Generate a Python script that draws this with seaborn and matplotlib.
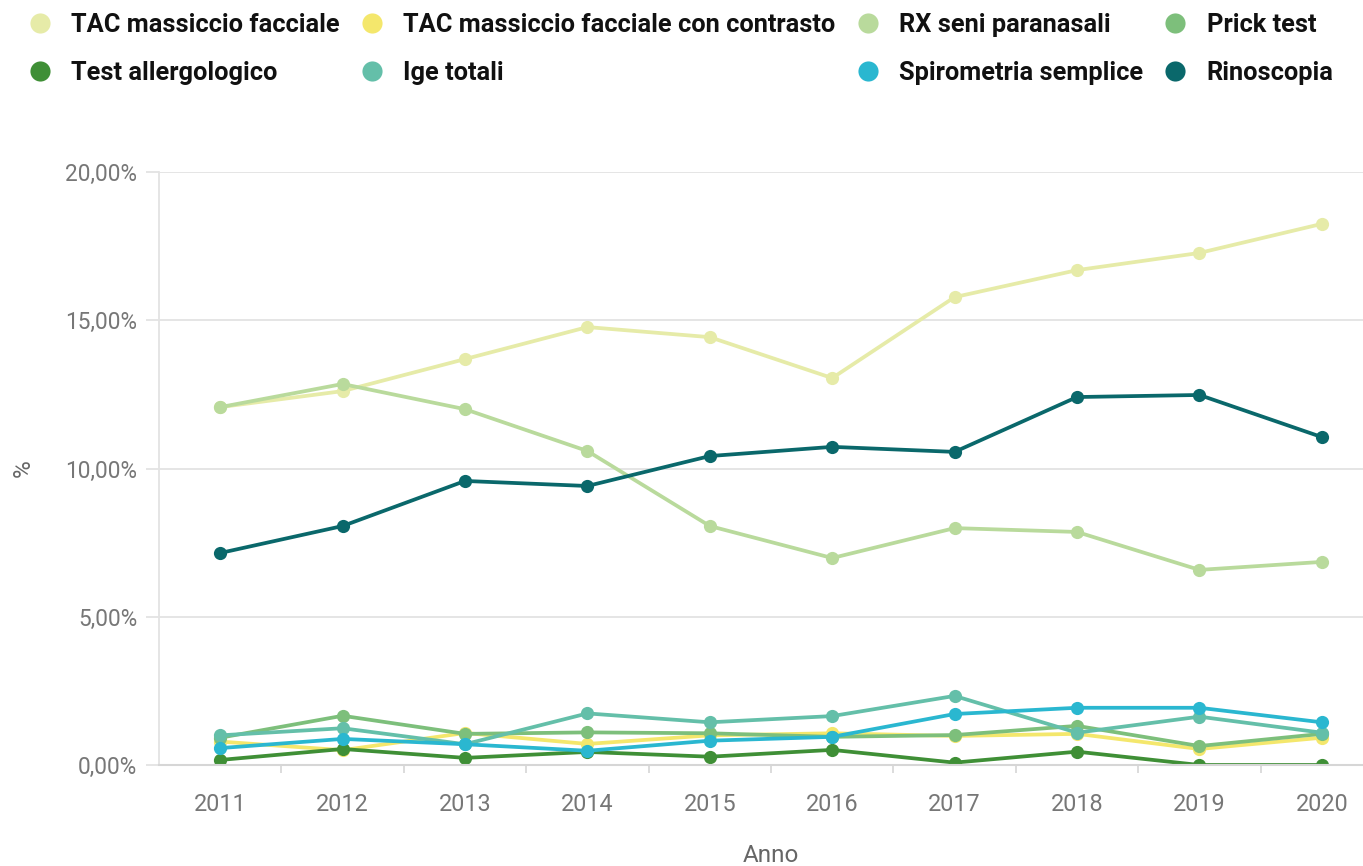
import matplotlib
matplotlib.use("Agg")
import matplotlib.pyplot as plt
from matplotlib.ticker import FuncFormatter, FixedLocator
from matplotlib.lines import Line2D
import seaborn as sns
import pandas as pd

years = [2011, 2012, 2013, 2014, 2015, 2016, 2017, 2018, 2019, 2020]
series_names = [
    "TAC massiccio facciale",
    "TAC massiccio facciale con contrasto",
    "RX seni paranasali",
    "Prick test",
    "Test allergologico",
    "Ige totali",
    "Spirometria semplice",
    "Rinoscopia",
]
tac = [12.07, 12.61, 13.69, 14.77, 14.43, 13.05, 15.78, 16.69, 17.27, 18.25]
tac_contrasto = [0.79, 0.50, 1.08, 0.71, 1.00, 1.07, 0.98, 1.05, 0.54, 0.92]
rx_seni = [12.07, 12.85, 12.00, 10.59, 8.06, 6.98, 7.99, 7.86, 6.58, 6.85]
prick = [0.92, 1.66, 1.05, 1.10, 1.07, 0.95, 1.01, 1.32, 0.64, 1.05]
test_allerg = [0.17, 0.54, 0.24, 0.44, 0.28, 0.51, 0.08, 0.45, 0.00, 0.00]
ige = [1.00, 1.24, 0.70, 1.74, 1.44, 1.65, 2.33, 1.09, 1.63, 1.09]
spiro = [0.57, 0.88, 0.70, 0.48, 0.82, 0.95, 1.72, 1.93, 1.93, 1.44]
rino = [7.15, 8.06, 9.58, 9.41, 10.42, 10.73, 10.56, 12.41, 12.48, 11.06]
colors = ["#e6eba8", "#f4e76c", "#b9da9c", "#7dbf7b", "#3f8f36", "#64bfa9", "#2ab7d0", "#0a686b"]
y_ticks = [0, 5, 10, 15, 20]

values = [tac, tac_contrasto, rx_seni, prick, test_allerg, ige, spiro, rino]
rows = []
for name, vals in zip(series_names, values):
    for y, v in zip(years, vals):
        rows.append({"Anno": y, "%": v, "Serie": name})
df = pd.DataFrame(rows)
palette = dict(zip(series_names, colors))

sns.set_theme(style="white")
plt.rcParams["font.family"] = ["Roboto", "DejaVu Sans"]

W, H = 1363, 866
fig = plt.figure(figsize=(W / 100, H / 100), dpi=100)
ax_l, ax_r, ax_t, ax_b = 159, 1383, 172, 765
ax = fig.add_axes([ax_l / W, 1 - ax_b / H, (ax_r - ax_l) / W, (ax_b - ax_t) / H])

sns.lineplot(data=df, x="Anno", y="%", hue="Serie", hue_order=series_names,
             palette=palette, marker="o", markersize=9.5, markeredgewidth=0,
             linewidth=2.7, ax=ax, legend=False)

ax.set_xlim(2010.5, 2020.5)
ax.set_ylim(0, 20)
ax.set_yticks(y_ticks)
ax.yaxis.set_major_formatter(FuncFormatter(lambda v, p: f"{v:.2f}%".replace(".", ",")))
ax.set_xticks(years)
ax.xaxis.set_minor_locator(FixedLocator([y + 0.5 for y in years[:-1]]))

grid_c = "#e3e3e3"
ax.grid(axis="y", color=grid_c, linewidth=1.3)
ax.grid(axis="x", visible=False)
for s in ["top", "right"]:
    ax.spines[s].set_visible(False)
ax.spines["left"].set_color(grid_c)
ax.spines["left"].set_linewidth(1.3)
ax.spines["bottom"].set_color("#d6d6d6")
ax.spines["bottom"].set_linewidth(1.5)
ax.set_axisbelow(True)

ax.tick_params(axis="y", which="major", length=9.5, width=1.3, color=grid_c, pad=6,
               labelsize=16.3, labelcolor="#777777", left=True)
ax.tick_params(axis="x", which="major", length=0, pad=20, labelsize=16.8, labelcolor="#777777")
ax.tick_params(axis="x", which="minor", length=6, width=1.2, color="#d6d6d6", bottom=True)

ax.set_xlabel("Anno", fontsize=17.5, color="#666666", labelpad=20)
ax.set_ylabel("%", fontsize=17.5, color="#666666", labelpad=22)

handles = [Line2D([], [], linestyle="none", marker="o", markersize=14.5,
                  markerfacecolor=c, markeredgewidth=0) for c in colors]
order = [0, 4, 1, 5, 2, 6, 3, 7]
leg = fig.legend([handles[i] for i in order], [series_names[i] for i in order],
                 ncol=4, loc="upper left", bbox_to_anchor=(29 / W, 1 - 13 / H),
                 frameon=False, handlelength=0.85, handletextpad=0.8,
                 columnspacing=0.85, labelspacing=0.95, borderpad=0, borderaxespad=0,
                 prop={"family": ["Roboto", "DejaVu Sans"], "weight": "bold", "size": 18.3})
for t in leg.get_texts():
    t.set_color("#111111")

fig.savefig("out.png", dpi=100)
